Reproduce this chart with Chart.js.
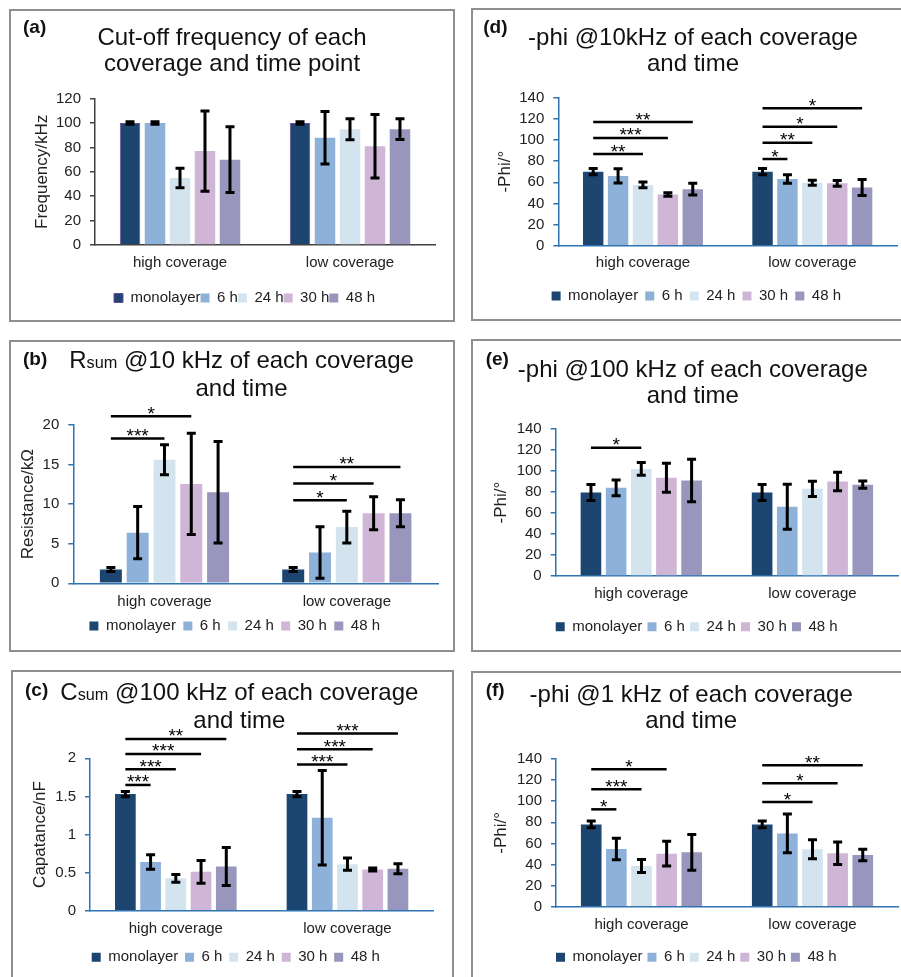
<!DOCTYPE html>
<html>
<head>
<meta charset="utf-8">
<script src="https://cdn.jsdelivr.net/npm/chart.js@4.4.1/dist/chart.umd.min.js"></script>
<style>
  body { margin: 0; background: #fff; width: 901px; height: 977px; overflow: hidden; position: relative;
         font-family: 'Liberation Sans', Arial, sans-serif; color: #111; }
  .box { position: absolute; border: 2px solid #8f8f8f; box-sizing: border-box; }
  canvas { position: absolute; }
  .ttl { position: absolute; width: 500px; font-size: 24px; line-height: 26px; text-align: center; white-space: nowrap; }
  .ttl small { font-size: 0.68em; }
  .lbl { position: absolute; font-size: 19px; font-weight: bold; line-height: 22px; }
</style>
</head>
<body>
<script>
const categories = ['high coverage', 'low coverage'];
const timePoints = ['monolayer', '6 h', '24 h', '30 h', '48 h'];
const colors = ['#1c4670', '#8eb1d9', '#d4e4ef', '#cfb5d6', '#9896bd'];

// (a) cut-off frequency, kHz
const freqHigh = [100, 100, 55, 77, 70];
const freqLow = [100, 88, 95, 81, 95];
const freqErrHigh = [1, 1, 8, 33, 27];
const freqErrLow = [1, 21.5, 8.6, 26, 8.5];
const freqSig = [];

// (b) Rsum @10 kHz, kOhm
const resHigh = [1.75, 6.4, 15.6, 12.55, 11.5];
const resLow = [1.75, 3.9, 7.1, 8.85, 8.85];
const resErrHigh = [0.25, 3.3, 1.9, 6.4, 6.4];
const resErrLow = [0.25, 3.25, 2.0, 2.1, 1.7];
// [category, compared time point, bracket level, stars] - always against monolayer
const resSig = [[0, 2, 18.3, '***'], [0, 3, 21.1, '*'], [1, 2, 10.5, '*'], [1, 3, 12.6, '*'], [1, 4, 14.7, '**']];

// (c) Csum @100 kHz, nF
const capHigh = [1.53, 0.64, 0.425, 0.51, 0.58];
const capLow = [1.53, 1.22, 0.61, 0.54, 0.55];
const capErrHigh = [0.035, 0.095, 0.05, 0.15, 0.25];
const capErrLow = [0.035, 0.62, 0.08, 0.02, 0.065];
const capSig = [[0, 1, 1.65, '***'], [0, 2, 1.856, '***'], [0, 3, 2.057, '***'], [0, 4, 2.254, '**'],
                [1, 2, 1.917, '***'], [1, 3, 2.118, '***'], [1, 4, 2.324, '***']];

// (d) -phi @10 kHz
const phi10High = [70, 66, 57.5, 48.5, 53.5];
const phi10Low = [70, 63, 59.5, 59, 55];
const phi10ErrHigh = [3, 6.8, 2.7, 1.7, 5.5];
const phi10ErrLow = [3, 4, 2.4, 2.7, 7.6];
const phi10Sig = [[0, 2, 86.7, '**'], [0, 3, 101.9, '***'], [0, 4, 117, '**'],
                  [1, 1, 82, '*'], [1, 2, 97.4, '**'], [1, 3, 112.6, '*'], [1, 4, 130, '*']];

// (e) -phi @100 kHz
const phi100High = [79.5, 84, 102, 93.5, 91];
const phi100Low = [79.5, 66, 83, 90, 87];
const phi100ErrHigh = [7.6, 7.5, 6, 13.8, 20.3];
const phi100ErrLow = [7.6, 21.4, 7.3, 8.9, 3.5];
const phi100Sig = [[0, 2, 122.2, '*']];

// (f) -phi @1 kHz
const phi1High = [78, 54.7, 38.6, 50.3, 51.5];
const phi1Low = [78, 69.5, 54.4, 50.6, 49];
const phi1ErrHigh = [3.2, 10.3, 6.2, 11.8, 16.9];
const phi1ErrLow = [3.2, 18.3, 9, 10.7, 5.4];
const phi1Sig = [[0, 1, 92.3, '*'], [0, 2, 111.3, '***'], [0, 3, 130.2, '*'],
                 [1, 2, 99.2, '*'], [1, 3, 116.9, '*'], [1, 4, 134, '**']];

Chart.defaults.font.family = "'Liberation Sans', Arial, sans-serif";
Chart.defaults.color = '#222';

const blueAxis = '#2f74b0';

const panels = [
  { label: '(a)', labelPos: [23, 16], title: ['Cut-off frequency of each', 'coverage and time point'], titleX: 232, titleY: 37,
    box: [9, 9, 446, 313], cv: [9, 9, 445, 312], axisX: 95, axisRight: 435, yMaxPix: 98.7, yZeroPix: 245,
    catY: 263, legendY: 298, legendX: 244.5, yTitleX: 42, legPad: 0, axisColor: '#404040',
    max: 120, step: 20, yTitle: 'Frequency/kHz', high: freqHigh, low: freqLow, errHigh: freqErrHigh, errLow: freqErrLow, sig: freqSig, monoBorder: true },
  { label: '(b)', labelPos: [23, 348], title: ['R<small>sum</small> @10 kHz of each coverage', 'and time'], titleX: 241.5, titleY: 360,
    box: [9, 340, 446, 312], cv: [9, 341, 445, 310], axisX: 73.3, axisRight: 438, yMaxPix: 425, yZeroPix: 583.3,
    catY: 601.7, legendY: 626, legendX: 234.7, yTitleX: 28, legPad: 7.4, axisColor: blueAxis,
    max: 20, step: 5, yTitle: 'Resistance/kΩ', high: resHigh, low: resLow, errHigh: resErrHigh, errLow: resErrLow, sig: resSig },
  { label: '(c)', labelPos: [25, 678.6], title: ['C<small>sum</small> @100 kHz of each coverage', 'and time'], titleX: 239.3, titleY: 691.7,
    box: [11, 670, 443, 330], cv: [11, 671, 442, 306], axisX: 90, axisRight: 433.3, yMaxPix: 758.3, yZeroPix: 910.7,
    catY: 929.3, legendY: 957.3, legendX: 235.8, yTitleX: 40.7, legPad: 6.8, axisColor: blueAxis,
    max: 2, step: 0.5, yTitle: 'Capatance/nF', high: capHigh, low: capLow, errHigh: capErrHigh, errLow: capErrLow, sig: capSig },
  { label: '(d)', labelPos: [483.3, 16.3], title: ['-phi @10kHz of each coverage', 'and time'], titleX: 693, titleY: 36.7,
    box: [471, 8, 445, 313], cv: [472, 9, 429, 308], axisX: 558.3, axisRight: 897, yMaxPix: 97.7, yZeroPix: 245.7,
    catY: 263.3, legendY: 296, legendX: 696.3, yTitleX: 505, legPad: 7.1, axisColor: blueAxis,
    max: 140, step: 20, yTitle: '-Phi/°', high: phi10High, low: phi10Low, errHigh: phi10ErrHigh, errLow: phi10ErrLow, sig: phi10Sig },
  { label: '(e)', labelPos: [485.7, 348], title: ['-phi @100 kHz of each coverage', 'and time'], titleX: 692.8, titleY: 368.3,
    box: [471, 339, 445, 313], cv: [472, 340, 429, 311], axisX: 555.7, axisRight: 898, yMaxPix: 429, yZeroPix: 576,
    catY: 594, legendY: 626.7, legendX: 696.7, yTitleX: 501.7, legPad: 5.25, axisColor: blueAxis,
    max: 140, step: 20, yTitle: '-Phi/°', high: phi100High, low: phi100Low, errHigh: phi100ErrHigh, errLow: phi100ErrLow, sig: phi100Sig },
  { label: '(f)', labelPos: [485.7, 679], title: ['-phi @1 kHz of each coverage', 'and time'], titleX: 691.2, titleY: 693.3,
    box: [471, 671, 445, 330], cv: [472, 672, 429, 305], axisX: 556, axisRight: 898, yMaxPix: 759, yZeroPix: 906.7,
    catY: 925, legendY: 957.3, legendX: 696.3, yTitleX: 501.7, legPad: 4.9, axisColor: blueAxis,
    max: 140, step: 20, yTitle: '-Phi/°', high: phi1High, low: phi1Low, errHigh: phi1ErrHigh, errLow: phi1ErrLow, sig: phi1Sig }
];

// error bars + significance brackets, drawn on top of the bars
function makeExtras(errs, sig) {
  return {
    id: 'extras',
    afterDatasetsDraw(chart) {
      const ctx = chart.ctx, y = chart.scales.y;
      ctx.save();
      ctx.strokeStyle = '#000';
      ctx.fillStyle = '#000';
      ctx.lineWidth = 3;
      chart.data.datasets.forEach((ds, i) => {
        chart.getDatasetMeta(i).data.forEach((bar, j) => {
          const v = ds.data[j], e = errs[i][j];
          const top = y.getPixelForValue(v + e), bot = y.getPixelForValue(v - e);
          ctx.beginPath();
          ctx.moveTo(bar.x, top); ctx.lineTo(bar.x, bot);
          ctx.moveTo(bar.x - 4.5, top); ctx.lineTo(bar.x + 4.5, top);
          ctx.moveTo(bar.x - 4.5, bot); ctx.lineTo(bar.x + 4.5, bot);
          ctx.stroke();
        });
      });
      ctx.lineWidth = 2.5;
      ctx.font = "19px 'Liberation Sans', Arial, sans-serif";
      ctx.textAlign = 'center';
      ctx.textBaseline = 'alphabetic';
      sig.forEach(([c, t, lvl, stars]) => {
        const x1 = chart.getDatasetMeta(0).data[c].x;
        const x2 = chart.getDatasetMeta(t).data[c].x;
        const py = y.getPixelForValue(lvl);
        ctx.beginPath();
        ctx.moveTo(x1, py); ctx.lineTo(x2, py);
        ctx.stroke();
        ctx.fillText(stars, (x1 + x2) / 2, py + 3.5);
      });
      ctx.restore();
    }
  };
}

function addPanel(p) {
  const box = document.createElement('div');
  box.className = 'box';
  Object.assign(box.style, { left: p.box[0] + 'px', top: p.box[1] + 'px', width: p.box[2] + 'px', height: p.box[3] + 'px' });
  document.body.appendChild(box);

  const [cx, cy, cw, ch] = p.cv;
  const cv = document.createElement('canvas');
  cv.width = cw; cv.height = ch;
  cv.style.left = cx + 'px'; cv.style.top = cy + 'px';
  document.body.appendChild(cv);

  const ttl = document.createElement('div');
  ttl.className = 'ttl';
  ttl.innerHTML = p.title.join('<br>');
  ttl.style.left = (p.titleX - 250) + 'px';
  ttl.style.top = (p.titleY - 12.7) + 'px';
  document.body.appendChild(ttl);

  const lbl = document.createElement('div');
  lbl.className = 'lbl';
  lbl.textContent = p.label;
  lbl.style.left = p.labelPos[0] + 'px';
  lbl.style.top = p.labelPos[1] + 'px';
  document.body.appendChild(lbl);

  // work out the paddings so the plot area lands where it is in the figure
  const axL = p.axisX - cx, axR = p.axisRight - cx;
  const pr = cw - axR;
  const pl = 2 * (p.legendX - cx) - cw + pr;
  const pt = p.yMaxPix - cy;
  const pb = ch - (p.legendY - cy) - 17.5;
  const legTop = ch - pb - (25 + p.legPad);
  const xH = legTop - (p.yZeroPix - cy);

  const errs = timePoints.map((_, i) => [p.errHigh[i], p.errLow[i]]);

  new Chart(cv, {
    type: 'bar',
    data: {
      labels: categories,
      datasets: timePoints.map((name, i) => ({
        label: name,
        data: [p.high[i], p.low[i]],
        backgroundColor: colors[i],
        borderColor: (p.monoBorder && i === 0) ? '#6a4c9c' : colors[i],
        borderWidth: (p.monoBorder && i === 0) ? 1 : 0,
        categoryPercentage: 0.735,
        barPercentage: 0.82
      }))
    },
    options: {
      responsive: false,
      animation: false,
      devicePixelRatio: 1,
      layout: { padding: { left: pl, right: pr, top: pt, bottom: pb } },
      plugins: {
        legend: {
          position: 'bottom',
          labels: { boxWidth: 9, boxHeight: 9, padding: p.legPad, color: '#222', font: { size: 15 } }
        },
        tooltip: { enabled: false }
      },
      scales: {
        x: {
          grid: { display: false, drawTicks: false },
          border: { display: true, color: p.axisColor, width: 1.5 },
          ticks: { color: '#222', font: { size: 15 }, padding: p.catY - p.yZeroPix - 9 },
          afterFit: s => { s.height = xH; }
        },
        y: {
          min: 0,
          max: p.max,
          ticks: { stepSize: p.step, color: '#222', font: { size: 15 }, padding: 9, callback: v => v },
          grid: { drawOnChartArea: false, drawTicks: true, tickLength: 5, color: p.axisColor, lineWidth: 1.5 },
          border: { display: true, color: p.axisColor, width: 1.5 },
          title: { display: true, text: p.yTitle, color: '#222', font: { size: 17 },
                   padding: { top: (p.yTitleX - cx) - pl - 10.2, bottom: 0 } },
          afterFit: s => { s.width = axL - pl; }
        }
      }
    },
    plugins: [makeExtras(errs, p.sig)]
  });
}

panels.forEach(addPanel);
</script>
</body>
</html>
